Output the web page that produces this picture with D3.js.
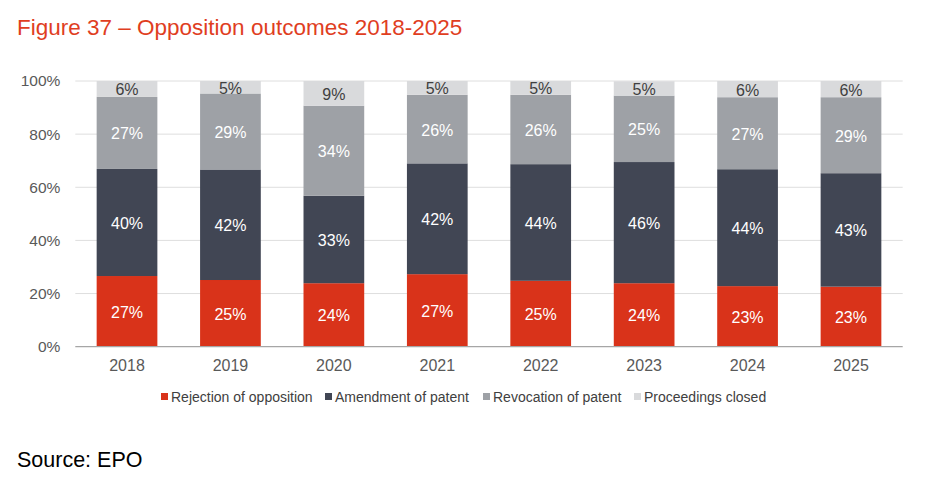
<!DOCTYPE html>
<html>
<head>
<meta charset="utf-8">
<script src="https://cdn.jsdelivr.net/npm/d3@7"></script>
<style>
  html, body { margin: 0; padding: 0; background: #fff; }
  svg { display: block; font-family: "Liberation Sans", Arial, sans-serif; }
</style>
</head>
<body>
<div id="chart"></div>
<script>
const years = ["2018", "2019", "2020", "2021", "2022", "2023", "2024", "2025"];
const rejection = [26.6, 25.1, 23.9, 27.3, 24.8, 23.9, 22.8, 22.6];
const amendment = [40.3, 41.6, 32.9, 41.7, 43.9, 45.6, 44.0, 42.7];
const revocation = [27.1, 28.6, 33.9, 25.8, 26.1, 25.0, 27.1, 28.6];
const closed = [6.0, 4.7, 9.3, 5.2, 5.2, 5.4, 6.1, 6.1];
const yTicks = [0, 20, 40, 60, 80, 100];

const seriesInfo = [
  { key: "rejection", name: "Rejection of opposition", color: "#d9331a", text: "#ffffff", values: rejection },
  { key: "amendment", name: "Amendment of patent", color: "#414654", text: "#ffffff", values: amendment },
  { key: "revocation", name: "Revocation of patent", color: "#9ea1a6", text: "#ffffff", values: revocation },
  { key: "closed", name: "Proceedings closed", color: "#d9dadc", text: "#404040", values: closed }
];

const WIDTH = 926;
const HEIGHT = 478;
const plot = { left: 75.3, right: 902.7, top: 81, bottom: 346.7 };

const rows = years.map((year, i) => {
  const row = { year };
  seriesInfo.forEach((s) => { row[s.key] = s.values[i]; });
  return row;
});

const stacked = d3.stack().keys(seriesInfo.map((s) => s.key))(rows);

const x = d3.scaleBand()
  .domain(years)
  .range([plot.left, plot.right])
  .paddingInner(0.413)
  .paddingOuter(0.2065);

const y = d3.scaleLinear()
  .domain([0, 100])
  .range([plot.bottom, plot.top]);

const svg = d3.select("#chart")
  .append("svg")
  .attr("width", WIDTH)
  .attr("height", HEIGHT);

// title
svg.append("text")
  .attr("x", 17)
  .attr("y", 35)
  .attr("fill", "#e03e1f")
  .attr("font-size", 22.5)
  .text("Figure 37 \u2013 Opposition outcomes 2018-2025");

// gridlines
svg.append("g")
  .selectAll("line")
  .data(yTicks.filter((t) => t > 0))
  .join("line")
  .attr("x1", plot.left)
  .attr("x2", plot.right)
  .attr("y1", (d) => y(d))
  .attr("y2", (d) => y(d))
  .attr("stroke", "#dedede")
  .attr("stroke-width", 1);

// y axis labels
const yAxis = svg.append("g")
  .attr("transform", `translate(${plot.left},0)`)
  .call(d3.axisLeft(y).tickValues(yTicks).tickFormat((d) => `${d}%`).tickSize(0).tickPadding(15));
yAxis.select(".domain").remove();
yAxis.selectAll("text")
  .attr("font-size", 15.5)
  .attr("fill", "#595959")
  .attr("font-family", "Liberation Sans, Arial, sans-serif");

// bars
const layers = svg.append("g")
  .selectAll("g")
  .data(stacked)
  .join("g")
  .attr("fill", (d, i) => seriesInfo[i].color);

layers.selectAll("rect")
  .data((d) => d)
  .join("rect")
  .attr("x", (d) => x(d.data.year))
  .attr("width", x.bandwidth())
  .attr("y", (d) => y(d[1]))
  .attr("height", (d) => y(d[0]) - y(d[1]));

// value labels
svg.append("g")
  .selectAll("g")
  .data(stacked)
  .join("g")
  .attr("fill", (d, i) => seriesInfo[i].text)
  .attr("font-size", 16)
  .attr("text-anchor", "middle")
  .selectAll("text")
  .data((d) => d)
  .join("text")
  .attr("x", (d) => x(d.data.year) + x.bandwidth() / 2)
  .attr("y", (d) => (y(d[0]) + y(d[1])) / 2 + 6.5)
  .text((d) => `${Math.round(d[1] - d[0])}%`);

// x baseline
svg.append("line")
  .attr("x1", plot.left)
  .attr("x2", plot.right)
  .attr("y1", y(0))
  .attr("y2", y(0))
  .attr("stroke", "#a6a6a6")
  .attr("stroke-width", 1.2);

// x axis labels
const xAxis = svg.append("g")
  .attr("transform", `translate(0,${plot.bottom})`)
  .call(d3.axisBottom(x).tickSize(0).tickPadding(13));
xAxis.select(".domain").remove();
xAxis.selectAll("text")
  .attr("font-size", 16)
  .attr("fill", "#595959")
  .attr("font-family", "Liberation Sans, Arial, sans-serif");

// legend
const legendX = [161, 325, 483, 634];
const legend = svg.append("g")
  .selectAll("g")
  .data(seriesInfo)
  .join("g")
  .attr("transform", (d, i) => `translate(${legendX[i]},393)`);

legend.append("rect")
  .attr("width", 7)
  .attr("height", 7)
  .attr("fill", (d) => d.color);

legend.append("text")
  .attr("x", 10)
  .attr("y", 8.5)
  .attr("font-size", 14)
  .attr("fill", "#404040")
  .text((d) => d.name);

// source
svg.append("text")
  .attr("x", 17)
  .attr("y", 467)
  .attr("font-size", 21.5)
  .attr("fill", "#000")
  .text("Source: EPO");
</script>
</body>
</html>
